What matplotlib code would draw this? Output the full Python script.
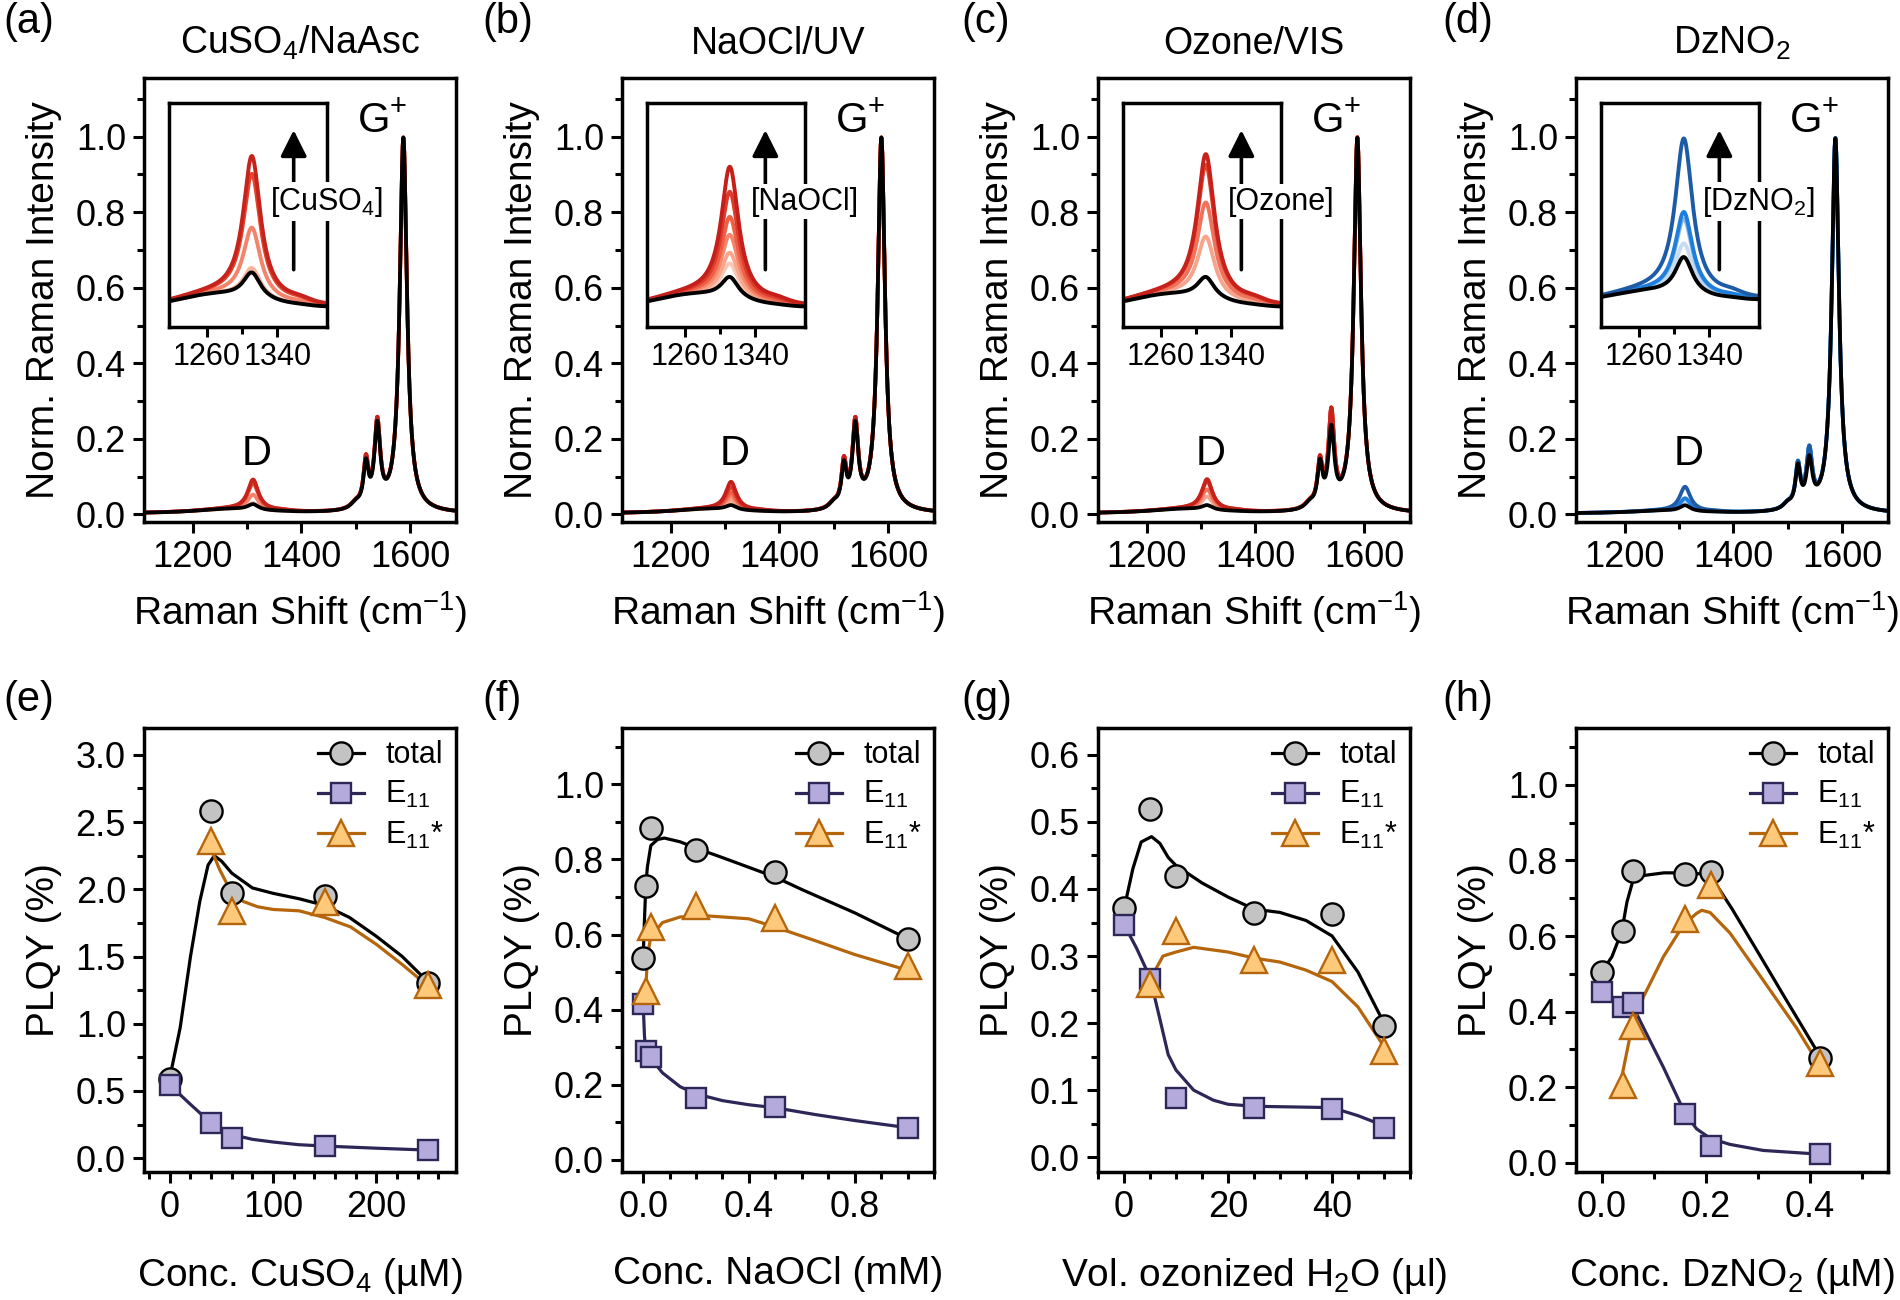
import numpy as np
import matplotlib
matplotlib.use("Agg")
import matplotlib.pyplot as plt
from matplotlib.lines import Line2D
from matplotlib.ticker import MultipleLocator, FixedLocator, FormatStrFormatter

plt.rcParams['font.family'] = ['Liberation Sans', 'DejaVu Sans']
plt.rcParams['mathtext.fontset'] = 'custom'
plt.rcParams['mathtext.rm'] = 'Liberation Sans'
plt.rcParams['mathtext.it'] = 'Liberation Sans:italic'
plt.rcParams['mathtext.bf'] = 'Liberation Sans:bold'
plt.rcParams['mathtext.default'] = 'regular'

# ---------------------------------------------------------------- text
panel_letters_top = ['(a)', '(b)', '(c)', '(d)']
panel_letters_bot = ['(e)', '(f)', '(g)', '(h)']
titles = ['CuSO$_4$/NaAsc', 'NaOCl/UV', 'Ozone/VIS', 'DzNO$_2$']
inset_labels = ['[CuSO$_4$]', '[NaOCl]', '[Ozone]', '[DzNO$_2$]']
xlabels_bot = ['Conc. CuSO$_4$ (µM)', 'Conc. NaOCl (mM)',
               'Vol. ozonized H$_2$O (µl)', 'Conc. DzNO$_2$ (µM)']
legend_labels = ['total', 'E$_{11}$', 'E$_{11}$*']

# ---------------------------------------------------------------- Raman band parameters (cm-1)
BG_POS, BG_FWHM, BG_CONST = 1270, 160, 0.002
D_POS, D_FWHM = 1311, 24
SH_POS, SH_FWHM, SH_RATIO = 1365, 35, 0.03
G0_POS, G0_FWHM, G0_AMP = 1500, 22, 0.015
G1_POS, G1_FWHM = 1519, 11
G2_POS, G2_FWHM = 1540, 13
GP_POS, GP_FWHM, GP_AMP = 1588, 16, 0.99

# per panel background amplitude and G- amplitudes (black / functionalized)
bg_amp = [0.012, 0.012, 0.012, 0.007]
gminus_black = [(0.11, 0.21), (0.105, 0.21), (0.11, 0.20), (0.105, 0.12)]
gminus_color = [(0.12, 0.22), (0.115, 0.22), (0.115, 0.245), (0.11, 0.145)]

# D-band peak intensity of each spectrum (pristine = black)
d_peak_black = [0.027, 0.0245, 0.0245, 0.024]
d_peak_a = [0.0295, 0.052, 0.082, 0.092]
d_peak_b = [0.032, 0.038, 0.048, 0.058, 0.072, 0.086]
d_peak_c = [0.047, 0.066, 0.087, 0.093]
d_peak_d = [0.0296, 0.0398, 0.0426, 0.073]
d_peaks = [d_peak_a, d_peak_b, d_peak_c, d_peak_d]

colors_a = ['#f8b4a0', '#f3836a', '#e6432f', '#c5231b']
colors_b = ['#fbc6b3', '#f8a58c', '#f5866a', '#ee5f48', '#df3b2c', '#c41f1a']
colors_c = ['#f6a48c', '#f0725a', '#e1402e', '#c6211a']
colors_d = ['#c6dcf2', '#84bbea', '#1f7edb', '#1d5ba6']
spec_colors = [colors_a, colors_b, colors_c, colors_d]

inset_ylims = [(-0.003, 0.122), (-0.003, 0.122), (-0.003, 0.122), (-0.0046, 0.088)]
arrow_x = [0.79, 0.75, 0.75, 0.75]

# ---------------------------------------------------------------- PLQY data
# (e) CuSO4
e_x = [0, 40, 60, 150, 250]
e_total = [0.588, 2.58, 1.97, 1.947, 1.30]
e_e11 = [0.544, 0.259, 0.147, 0.088, 0.059]
e_xs = [40, 60, 150, 250]
e_e11s = [2.356, 1.84, 1.906, 1.29]
e_fit_total_x = [0, 10, 20, 29, 37, 43, 50, 60, 80, 100, 125, 150, 174, 200, 225, 250]
e_fit_total_y = [0.60, 0.97, 1.50, 1.91, 2.18, 2.25, 2.21, 2.12, 2.01, 1.97, 1.93, 1.88, 1.79, 1.65, 1.50, 1.31]
e_fit_e11_x = [0, 20, 40, 50, 60, 80, 100, 125, 150, 200, 250]
e_fit_e11_y = [0.544, 0.40, 0.26, 0.205, 0.175, 0.14, 0.12, 0.10, 0.09, 0.074, 0.06]
e_fit_e11s_x = [40, 48, 60, 71, 85, 100, 125, 150, 175, 200, 225, 250]
e_fit_e11s_y = [2.30, 2.15, 1.97, 1.91, 1.87, 1.85, 1.84, 1.79, 1.72, 1.59, 1.44, 1.28]

# (f) NaOCl
f_x = [0.0, 0.01, 0.03, 0.2, 0.5, 1.0]
f_total = [0.537, 0.729, 0.884, 0.824, 0.766, 0.589]
f_e11 = [0.416, 0.289, 0.274, 0.165, 0.14, 0.086]
f_xs = [0.01, 0.03, 0.2, 0.5, 1.0]
f_e11s = [0.45, 0.62, 0.675, 0.643, 0.516]
f_fit_total_x = [0.0, 0.005, 0.01, 0.016, 0.029, 0.054, 0.08, 0.14, 0.2, 0.3, 0.4, 0.5, 0.6, 0.8, 1.0]
f_fit_total_y = [0.537, 0.64, 0.73, 0.78, 0.837, 0.853, 0.857, 0.847, 0.83, 0.805, 0.779, 0.753, 0.72, 0.658, 0.589]
f_fit_e11_x = [0.0, 0.005, 0.01, 0.03, 0.073, 0.14, 0.2, 0.3, 0.4, 0.5, 0.65, 0.8, 1.0]
f_fit_e11_y = [0.416, 0.33, 0.29, 0.27, 0.232, 0.195, 0.176, 0.158, 0.147, 0.139, 0.121, 0.105, 0.086]
f_fit_e11s_x = [0.01, 0.016, 0.029, 0.073, 0.14, 0.24, 0.4, 0.5, 0.65, 0.8, 1.0]
f_fit_e11s_y = [0.45, 0.542, 0.595, 0.632, 0.647, 0.65, 0.642, 0.62, 0.584, 0.547, 0.505]

# (g) ozone
g_x = [0, 5, 10, 25, 40, 50]
g_total = [0.372, 0.519, 0.419, 0.364, 0.362, 0.196]
g_e11 = [0.347, 0.266, 0.089, 0.074, 0.072, 0.044]
g_xs = [5, 10, 25, 40, 50]
g_e11s = [0.259, 0.338, 0.294, 0.294, 0.159]
g_fit_total_x = [0, 1.7, 3.3, 5.3, 6.9, 8.5, 10, 15, 20, 25, 30, 35, 40, 45, 50]
g_fit_total_y = [0.37, 0.43, 0.47, 0.478, 0.468, 0.447, 0.435, 0.409, 0.388, 0.37, 0.365, 0.353, 0.33, 0.276, 0.2]
g_fit_e11_x = [0, 2.4, 5, 6.9, 8.5, 10, 13.4, 17.2, 20, 25, 40, 45, 50]
g_fit_e11_y = [0.347, 0.312, 0.268, 0.206, 0.153, 0.13, 0.1, 0.085, 0.079, 0.076, 0.074, 0.062, 0.047]
g_fit_e11s_x = [5, 7.5, 10, 13.4, 20, 25, 30, 35, 40, 45, 50]
g_fit_e11s_y = [0.265, 0.3, 0.306, 0.313, 0.306, 0.297, 0.291, 0.279, 0.262, 0.224, 0.165]

# (h) DzNO2
h_x = [0.0, 0.04, 0.06, 0.16, 0.21, 0.42]
h_total = [0.506, 0.612, 0.773, 0.765, 0.769, 0.277]
h_e11 = [0.451, 0.412, 0.422, 0.13, 0.046, 0.023]
h_xs = [0.04, 0.06, 0.16, 0.21, 0.42]
h_e11s = [0.206, 0.363, 0.645, 0.735, 0.263]
h_fit_total_x = [0, 0.019, 0.038, 0.048, 0.059, 0.08, 0.119, 0.157, 0.207, 0.25, 0.3, 0.35, 0.418]
h_fit_total_y = [0.506, 0.545, 0.612, 0.69, 0.744, 0.76, 0.767, 0.767, 0.763, 0.672, 0.557, 0.441, 0.285]
h_fit_e11_x = [0, 0.035, 0.061, 0.08, 0.118, 0.16, 0.182, 0.208, 0.246, 0.31, 0.42]
h_fit_e11_y = [0.451, 0.415, 0.41, 0.357, 0.253, 0.13, 0.09, 0.065, 0.049, 0.033, 0.023]
h_fit_e11s_x = [0.038, 0.058, 0.08, 0.118, 0.157, 0.182, 0.192, 0.208, 0.246, 0.31, 0.374, 0.416]
h_fit_e11s_y = [0.227, 0.363, 0.44, 0.545, 0.63, 0.66, 0.668, 0.662, 0.608, 0.483, 0.357, 0.263]

bottom_panels = [
    dict(x=e_x, total=e_total, e11=e_e11, xs=e_xs, e11s=e_e11s,
         ft=(e_fit_total_x, e_fit_total_y), fe=(e_fit_e11_x, e_fit_e11_y), fs=(e_fit_e11s_x, e_fit_e11s_y),
         xlim=(-25, 277), ylim=(-0.103, 3.2), xmaj=100, xmin=20, ymaj=0.5, ymin=0.25, xfmt='%d', yfmt='%.1f'),
    dict(x=f_x, total=f_total, e11=f_e11, xs=f_xs, e11s=f_e11s,
         ft=(f_fit_total_x, f_fit_total_y), fe=(f_fit_e11_x, f_fit_e11_y), fs=(f_fit_e11s_x, f_fit_e11s_y),
         xlim=(-0.08, 1.1), ylim=(-0.032, 1.15), xmaj=0.4, xmin=0.1, ymaj=0.2, ymin=0.1, xfmt='%.1f', yfmt='%.1f'),
    dict(x=g_x, total=g_total, e11=g_e11, xs=g_xs, e11s=g_e11s,
         ft=(g_fit_total_x, g_fit_total_y), fe=(g_fit_e11_x, g_fit_e11_y), fs=(g_fit_e11s_x, g_fit_e11s_y),
         xlim=(-5, 55), ylim=(-0.022, 0.64), xmaj=20, xmin=5, ymaj=0.1, ymin=0.05, xfmt='%d', yfmt='%.1f'),
    dict(x=h_x, total=h_total, e11=h_e11, xs=h_xs, e11s=h_e11s,
         ft=(h_fit_total_x, h_fit_total_y), fe=(h_fit_e11_x, h_fit_e11_y), fs=(h_fit_e11s_x, h_fit_e11s_y),
         xlim=(-0.05, 0.55), ylim=(-0.024, 1.15), xmaj=0.2, xmin=0.1, ymaj=0.2, ymin=0.1, xfmt='%.1f', yfmt='%.1f'),
]

# ---------------------------------------------------------------- styles
C_TOT_FACE, C_TOT_LINE = '#c3c3c3', 'black'
C_E11_FACE, C_E11_LINE = '#b4aadc', '#2c2757'
C_E11S_FACE, C_E11S_LINE = '#fec97b', '#b5660c'

W, H = 1900, 1300
fig = plt.figure(figsize=(19, 13), dpi=100)
lefts = [144, 622, 1098, 1576]
letter_x = [3, 482, 961, 1442]
AW, AH = 312, 444


def add_ax(left, top):
    return fig.add_axes([left / W, 1 - (top + AH) / H, AW / W, AH / H])


def style(ax, labelsize=26):
    for s in ax.spines.values():
        s.set_linewidth(2.5)
    ax.tick_params(which='both', direction='out', width=2.2, top=False, right=False)
    ax.tick_params(which='major', length=8, labelsize=labelsize, pad=5)
    ax.tick_params(which='minor', length=5)


def lor(x, x0, fwhm, amp):
    return amp / (1.0 + ((np.asarray(x, dtype=float) - x0) / (fwhm / 2.0)) ** 2)


def spectrum(x, d_peak, g_minus, bga):
    base_at_d = BG_CONST + lor(D_POS, BG_POS, BG_FWHM, bga) + lor(D_POS, GP_POS, GP_FWHM, GP_AMP)
    d_amp = d_peak - base_at_d
    y = BG_CONST + lor(x, BG_POS, BG_FWHM, bga)
    y = y + lor(x, D_POS, D_FWHM, d_amp) + lor(x, SH_POS, SH_FWHM, SH_RATIO * d_amp)
    y = y + lor(x, G0_POS, G0_FWHM, G0_AMP) + lor(x, G1_POS, G1_FWHM, g_minus[0])
    y = y + lor(x, G2_POS, G2_FWHM, g_minus[1]) + lor(x, GP_POS, GP_FWHM, GP_AMP)
    return y


xs = np.linspace(1100, 1700, 1501)

# ---------------------------------------------------------------- top row
for i in range(4):
    ax = add_ax(lefts[i], 78)
    style(ax)
    curves = []
    for dp, c in zip(d_peaks[i], spec_colors[i]):
        curves.append((spectrum(xs, dp, gminus_color[i], bg_amp[i]), c))
    curves.append((spectrum(xs, d_peak_black[i], gminus_black[i], bg_amp[i]), 'black'))
    for y, c in curves:
        ax.plot(xs, y, color=c, lw=2.7)
    ax.set_xlim(1110, 1685)
    ax.set_ylim(-0.02, 1.155)
    ax.xaxis.set_major_locator(MultipleLocator(200))
    ax.xaxis.set_minor_locator(MultipleLocator(100))
    ax.yaxis.set_major_locator(MultipleLocator(0.2))
    ax.yaxis.set_minor_locator(MultipleLocator(0.1))
    ax.yaxis.set_major_formatter(FormatStrFormatter('%.1f'))
    ax.set_xlabel('Raman Shift (cm$^{-1}$)', fontsize=28, labelpad=10)
    ax.set_ylabel('Norm. Raman Intensity', fontsize=28, labelpad=10)
    ax.text(0.5, 1.054, titles[i], transform=ax.transAxes, ha='center', va='baseline', fontsize=27)
    ax.text(1502, 1.01, 'G$^{+}$', fontsize=30, ha='left', va='baseline')
    ax.text(1290, 0.132, 'D', fontsize=30, ha='left', va='baseline')
    fig.text(letter_x[i] / W, 1 - 22 / H, panel_letters_top[i], fontsize=30, ha='left', va='center')

    ins = ax.inset_axes([0.08, 0.44, 0.506, 0.503])
    for y, c in curves:
        ins.plot(xs, y, color=c, lw=2.8)
    ins.set_xlim(1217, 1396)
    ins.set_ylim(*inset_ylims[i])
    for s in ins.spines.values():
        s.set_linewidth(2.5)
    ins.set_yticks([])
    ins.xaxis.set_major_locator(FixedLocator([1260, 1340]))
    ins.xaxis.set_minor_locator(FixedLocator([1300]))
    ins.tick_params(which='both', direction='out', width=2.2, top=False, right=False)
    ins.tick_params(which='major', length=7, labelsize=22, pad=4)
    ins.tick_params(which='minor', length=5)
    ins.annotate('', xy=(arrow_x[i], 0.88), xytext=(arrow_x[i], 0.255), xycoords='axes fraction',
                 arrowprops=dict(arrowstyle='-|>,head_length=0.5,head_width=0.25', lw=2.6, color='black',
                                 mutation_scale=32, shrinkA=0, shrinkB=0))
    ins.text(1.0, 0.56, inset_labels[i], transform=ins.transAxes, ha='center', va='center', fontsize=22,
             zorder=6, bbox=dict(facecolor='white', edgecolor='none', pad=2))

# ---------------------------------------------------------------- bottom row
for i, p in enumerate(bottom_panels):
    ax = add_ax(lefts[i], 728)
    style(ax)
    ax.plot(*p['ft'], color=C_TOT_LINE, lw=2.3, zorder=2)
    ax.plot(*p['fe'], color=C_E11_LINE, lw=2.3, zorder=2)
    ax.plot(*p['fs'], color=C_E11S_LINE, lw=2.3, zorder=2)
    ax.plot(p['x'], p['total'], ls='none', marker='o', ms=16, mfc=C_TOT_FACE, mec='black', mew=1.7, zorder=3)
    ax.plot(p['x'], p['e11'], ls='none', marker='s', ms=15, mfc=C_E11_FACE, mec=C_E11_LINE, mew=1.7, zorder=4)
    ax.plot(p['xs'], p['e11s'], ls='none', marker='^', ms=19, mfc=C_E11S_FACE, mec=C_E11S_LINE, mew=1.7, zorder=5)
    ax.set_xlim(*p['xlim'])
    ax.set_ylim(*p['ylim'])
    ax.xaxis.set_major_locator(MultipleLocator(p['xmaj']))
    ax.xaxis.set_minor_locator(MultipleLocator(p['xmin']))
    ax.yaxis.set_major_locator(MultipleLocator(p['ymaj']))
    ax.yaxis.set_minor_locator(MultipleLocator(p['ymin']))
    ax.xaxis.set_major_formatter(FormatStrFormatter(p['xfmt']))
    ax.yaxis.set_major_formatter(FormatStrFormatter(p['yfmt']))
    ax.set_xlabel(xlabels_bot[i], fontsize=28, labelpad=22)
    ax.set_ylabel('PLQY (%)', fontsize=28, labelpad=10)
    handles = [
        Line2D([0], [0], color=C_TOT_LINE, lw=2.3, marker='o', ms=16, mfc=C_TOT_FACE, mec='black', mew=1.7),
        Line2D([0], [0], color=C_E11_LINE, lw=2.3, marker='s', ms=15, mfc=C_E11_FACE, mec=C_E11_LINE, mew=1.7),
        Line2D([0], [0], color=C_E11S_LINE, lw=2.3, marker='^', ms=19, mfc=C_E11S_FACE, mec=C_E11S_LINE, mew=1.7),
    ]
    ax.legend(handles, legend_labels, loc='upper right', frameon=False, fontsize=22,
              handlelength=1.5, handletextpad=0.7, labelspacing=0.3, borderaxespad=0.1, borderpad=0.3)
    fig.text(letter_x[i] / W, 1 - 700 / H, panel_letters_bot[i], fontsize=30, ha='left', va='center')

fig.savefig('out.png', dpi=100)
